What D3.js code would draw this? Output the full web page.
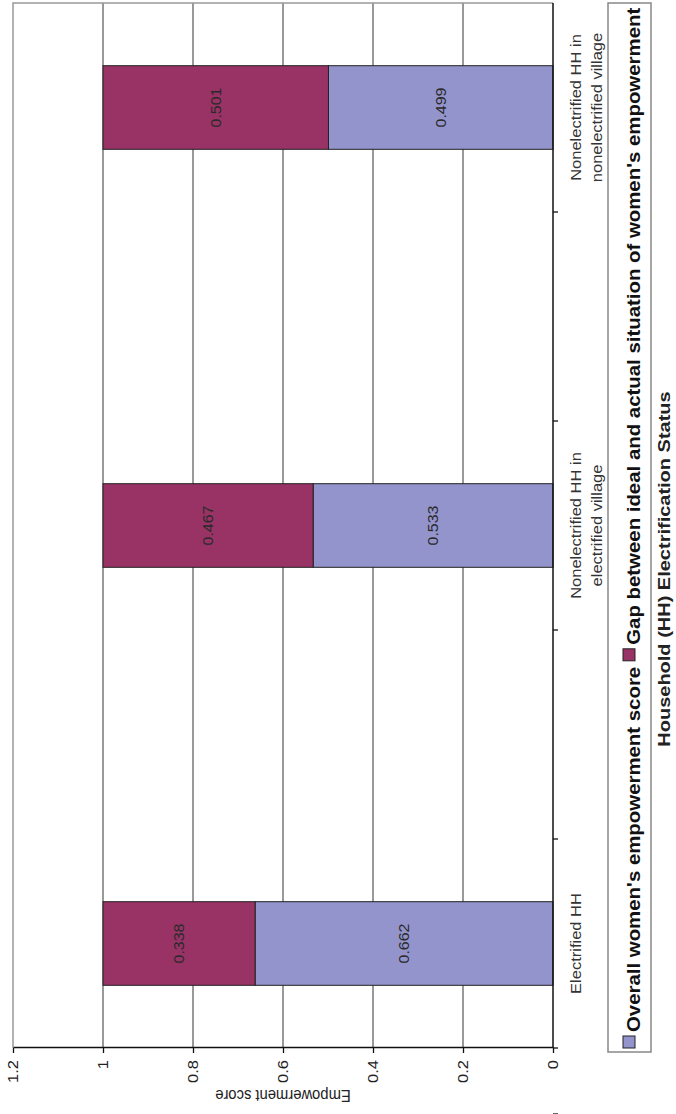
<!DOCTYPE html>
<html>
<head>
<meta charset="utf-8">
<script src="https://cdn.jsdelivr.net/npm/d3@7"></script>
<style>
  body { margin: 0; background: #fff; }
  svg { display: block; }
  text { font-family: "Liberation Sans", Arial, sans-serif; }
</style>
</head>
<body>
<svg id="chart" width="676" height="1114"></svg>
<script>
// categories (blank slots are empty categories in the original sheet)
const categories = ["Electrified HH", "", "Nonelectrified HH in\nelectrified village", "", "Nonelectrified HH in\nnonelectrified village"];
const overallScore = [0.662, null, 0.533, null, 0.499];
const gapScore = [0.338, null, 0.467, null, 0.501];
const seriesNames = ["Overall women's empowerment score", "Gap between ideal and actual situation of women's empowerment"];
const seriesColors = ["#9494cc", "#993366"];
const valueTicks = [0, 0.2, 0.4, 0.6, 0.8, 1, 1.2];
const yTitle = "Empowerment score";
const xTitle = "Household (HH) Electrification Status";

// the chart is laid out landscape, then turned a quarter anticlockwise
const W = 1114, H = 676;
const K = 0.87; // glyphs are squashed across the reading direction in the picture

const svg = d3.select("#chart");
const g = svg.append("g").attr("transform", `translate(0,${W}) rotate(-90)`);

const plot = { left: 66, right: 1111, top: 13, bottom: 553 };

const x = d3.scaleBand()
    .domain(d3.range(categories.length))
    .range([plot.left, plot.right])
    .paddingInner(0.6)
    .paddingOuter(0.3);
const y = d3.scaleLinear().domain([0, 1.2]).range([plot.bottom, plot.top]);

const step = x.step();
const boundary = i => x(i) + x.bandwidth() / 2 - step / 2;

// gridlines
g.append("g")
    .selectAll("line")
    .data(valueTicks.filter(d => d > 0 && d < 1.2))
    .join("line")
    .attr("x1", plot.left).attr("x2", plot.right)
    .attr("y1", d => y(d)).attr("y2", d => y(d))
    .attr("stroke", "#555").attr("stroke-width", 1.2);

// plot border (top and right)
g.append("path")
    .attr("d", `M${plot.left},${y(1.2)}H${plot.right}V${plot.bottom}`)
    .attr("fill", "none").attr("stroke", "#999").attr("stroke-width", 1.5);

// stacked bars
const rows = categories.map((c, i) => ({ i, overall: overallScore[i], gap: gapScore[i] }))
    .filter(d => d.overall != null);
const stacked = d3.stack().keys(["overall", "gap"])(rows);

const fmt = d3.format(".3f");
stacked.forEach((layer, k) => {
    const lg = g.append("g");
    lg.selectAll("rect")
        .data(layer)
        .join("rect")
        .attr("x", d => x(d.data.i))
        .attr("width", x.bandwidth())
        .attr("y", d => y(d[1]))
        .attr("height", d => y(d[0]) - y(d[1]))
        .attr("fill", seriesColors[k])
        .attr("stroke", "#222").attr("stroke-width", 1);
    lg.selectAll("text")
        .data(layer)
        .join("text")
        .attr("transform", d => `translate(${x(d.data.i) + x.bandwidth() / 2},${(y(d[0]) + y(d[1])) / 2}) scale(1,${K})`)
        .attr("text-anchor", "middle")
        .attr("dy", "0.35em")
        .attr("font-size", 16)
        .attr("fill", "#2a2a2a")
        .text(d => fmt(d[1] - d[0]));
});

// value axis
const yAxis = g.append("g")
    .attr("transform", `translate(${plot.left},0)`)
    .call(d3.axisLeft(y).tickValues(valueTicks).tickFormat(d3.format("~g")).tickSize(5).tickSizeOuter(0).tickPadding(7));
yAxis.select(".domain").attr("stroke", "#111").attr("stroke-width", 1.5);
yAxis.selectAll(".tick line").attr("stroke", "#111").attr("stroke-width", 1.3);
yAxis.selectAll(".tick text")
    .attr("font-size", 16.5).attr("fill", "#222")
    .attr("font-family", null)
    .attr("transform", `scale(1,${K})`);

// category axis
g.append("line")
    .attr("x1", plot.left).attr("x2", plot.right)
    .attr("y1", plot.bottom).attr("y2", plot.bottom)
    .attr("stroke", "#111").attr("stroke-width", 1.5);
g.append("g")
    .selectAll("line")
    .data(d3.range(categories.length + 1))
    .join("line")
    .attr("x1", d => boundary(d)).attr("x2", d => boundary(d))
    .attr("y1", plot.bottom).attr("y2", plot.bottom + 5)
    .attr("stroke", "#111").attr("stroke-width", 1.3);

g.append("g")
    .selectAll("text")
    .data(categories.map((c, i) => ({ i, lines: c ? c.split("\n") : [] })).filter(d => d.lines.length))
    .join("text")
    .attr("font-size", 16.5)
    .attr("fill", "#333")
    .attr("text-anchor", "middle")
    .each(function (d) {
        d3.select(this).selectAll("tspan")
            .data(d.lines)
            .join("tspan")
            .attr("x", 0)
            .attr("y", (l, j) => j * 21 / K)
            .text(l => l);
    })
    .attr("transform", d => `translate(${x(d.i) + x.bandwidth() / 2},${plot.bottom + 28}) scale(1,${K})`);

// axis titles
g.append("text")
    .attr("transform", `translate(24,${(plot.top + plot.bottom) / 2}) scale(1,${K}) rotate(-90)`)
    .attr("text-anchor", "middle")
    .attr("font-size", 17)
    .attr("fill", "#222")
    .text(yTitle);

g.append("text")
    .attr("transform", `translate(545,670) scale(1,${K})`)
    .attr("text-anchor", "middle")
    .attr("font-size", 20)
    .attr("font-weight", "bold")
    .attr("fill", "#222")
    .text(xTitle);

// legend
const legend = g.append("g");
legend.append("rect")
    .attr("x", 62).attr("y", 608)
    .attr("width", 1111 - 62).attr("height", 43)
    .attr("fill", "#fff").attr("stroke", "#888").attr("stroke-width", 1.5);

let lx = 66;
seriesNames.forEach((name, k) => {
    legend.append("rect")
        .attr("x", lx).attr("y", 623)
        .attr("width", 12).attr("height", 12)
        .attr("fill", seriesColors[k]).attr("stroke", "#222");
    const t = legend.append("text")
        .attr("transform", `translate(${lx + 16},640) scale(1,${K})`)
        .attr("font-size", 20.4)
        .attr("font-weight", "bold")
        .attr("fill", "#111")
        .text(name);
    lx += 16 + t.node().getComputedTextLength() + 6;
});
</script>
</body>
</html>
